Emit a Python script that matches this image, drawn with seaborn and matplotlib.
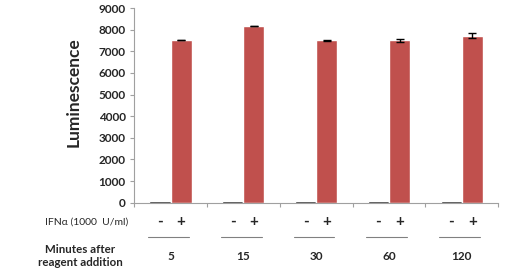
import matplotlib
matplotlib.use("Agg")
import matplotlib.pyplot as plt
import matplotlib.transforms as mtransforms
import seaborn as sns
import pandas as pd
import numpy as np

minutes = ["5", "15", "30", "60", "120"]
treatments = ["-", "+"]
minus_values = [80, 80, 80, 80, 80]
plus_values = [7520, 8180, 7520, 7510, 7720]
plus_errors = [15, 15, 20, 75, 110]
yticks = [0, 1000, 2000, 3000, 4000, 5000, 6000, 7000, 8000, 9000]

sns.set_theme(style="white")
plt.rcParams['font.family'] = ['Lato', 'DejaVu Sans']

df = pd.DataFrame({
    "minutes": minutes * 2,
    "IFN": ["-"] * len(minutes) + ["+"] * len(minutes),
    "value": minus_values + plus_values,
})

fig = plt.figure(figsize=(5.2, 2.71), dpi=100)
ax = fig.add_axes([0.258, 0.252, 0.700, 0.718])

sns.barplot(data=df, x="minutes", y="value", hue="IFN", order=minutes,
            hue_order=treatments, palette={"-": "#000000", "+": "#C0504D"},
            width=0.58, errorbar=None, legend=False, ax=ax, saturation=1)

# error bars on the + bars
plus_patches = [p for p in ax.patches if p.get_height() > 1000]
plus_patches.sort(key=lambda p: p.get_x())
for p, v, e in zip(plus_patches, plus_values, plus_errors):
    cx = p.get_x() + p.get_width() / 2
    ax.errorbar(cx, v, yerr=e, fmt="none", ecolor="black", elinewidth=1,
                capsize=3, capthick=1)

ax.set_ylim(0, 9000)
ax.set_xlim(-0.5, len(minutes) - 0.5)
ax.set_yticks(yticks)
ax.set_yticklabels([str(t) for t in yticks], fontsize=8.5, fontweight="bold")
ax.tick_params(axis="y", length=3, color="#A0A0A0", width=0.8, pad=3, left=True)
ax.set_xticks([])
ax.set_xticks(np.arange(-0.5, len(minutes)), minor=True)
ax.tick_params(axis="x", which="minor", length=3, color="#A0A0A0", width=0.8, bottom=True)
ax.set_xlabel("")
ax.set_ylabel("Luminescence", fontsize=12.5, fontweight="bold")
ax.yaxis.set_label_coords(-0.145, 0.57)

for s in ["top", "right"]:
    ax.spines[s].set_visible(False)
for s in ["left", "bottom"]:
    ax.spines[s].set_color("#A0A0A0")
    ax.spines[s].set_linewidth(0.8)

trans = mtransforms.blended_transform_factory(ax.transData, fig.transFigure)
y_sign = 1 - 222 / 271
y_line = 1 - 237 / 271
y_min = 1 - 256 / 271
for i, m in enumerate(minutes):
    ax.text(i - 0.145, y_sign, "-", transform=trans, ha="center", va="center",
            fontsize=11, fontweight="bold")
    ax.text(i + 0.145, y_sign, "+", transform=trans, ha="center", va="center",
            fontsize=11, fontweight="bold")
    ax.plot([i - 0.31, i + 0.25], [y_line, y_line], transform=trans,
            color="#808080", lw=0.8, clip_on=False)
    ax.text(i, y_min, m, transform=trans, ha="center", va="center",
            fontsize=8.5, fontweight="bold")

fig.text(128 / 520, y_sign, "IFNα (1000  U/ml)", ha="right", va="center", fontsize=7.5)
fig.text(80 / 520, 1 - 256 / 271, "Minutes after\nreagent addition", ha="center",
         va="center", fontsize=8.3, fontweight="bold", linespacing=1.3)

fig.savefig("out.png", dpi=100)
